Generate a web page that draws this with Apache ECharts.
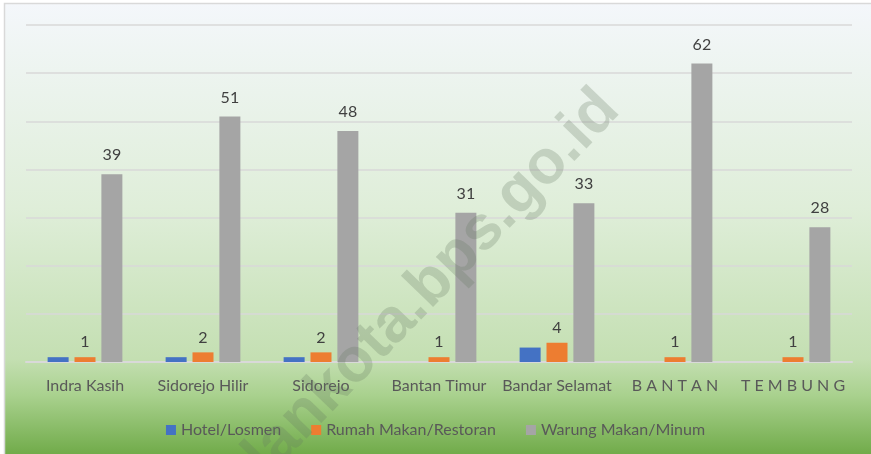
<!DOCTYPE html>
<html><head><meta charset="utf-8">
<script src="https://cdn.jsdelivr.net/npm/echarts@6/dist/echarts.min.js"></script>
<style>html,body{margin:0;padding:0;background:#fff}#c{width:871px;height:454px}</style>
</head><body><div id="c"></div>
<script>
var categories = ['Indra Kasih','Sidorejo Hilir','Sidorejo','Bantan Timur','Bandar Selamat','B A N T A N','T E M B U N G'];
var hotel = [1,1,1,0,3,0,0];
var rumahMakan = [1,2,2,1,4,1,1];
var warung = [39,51,48,31,33,62,28];
var seriesNames = ['Hotel/Losmen','Rumah Makan/Restoran','Warung Makan/Minum'];
var colors = ['#4472c4','#ed7d31','#a5a5a5'];

var font = 'Lato, "Open Sans", sans-serif';
var chart = echarts.init(document.getElementById('c'), null, {renderer:'canvas'});
function bar(name, data, color, showLabel, dist){
  return {
    name: name, type:'bar', data: data, barWidth: 21, barGap: '28%',
    itemStyle:{color: color},
    label:{show: showLabel, position:'top', distance: dist, color:'#404040', fontSize:16, fontFamily: font,
      formatter: function(p){ return p.value > 0 ? p.value : ''; }},
    z: 3
  };
}
chart.setOption({
  animation:false,
  textStyle:{fontFamily: font},
  graphic:[
    {type:'rect', z:-10, shape:{x:4.5,y:3.5,width:870,height:455},
     style:{stroke:'#d9d9d9', lineWidth:1.5,
       fill: new echarts.graphic.LinearGradient(0,0,0,1,[
         {offset:0,color:'#f4f7fb'},
         {offset:0.45,color:'#dfeed9'},
         {offset:0.78,color:'#c4dfb2'},
         {offset:0.86,color:'#a9d18e'},
         {offset:1,color:'#6ca844'}])}},
    {type:'text', z:100, silent:true, x:394, y:323, rotation: 46*Math.PI/180,
     style:{text:'medankota.bps.go.id', x:0, y:0, align:'center', verticalAlign:'middle',
       font:'bold 62px "Liberation Sans", Arial, sans-serif', fill:'rgba(100,120,95,0.26)'}}
  ],
  grid:{left:26, right:19, top:25, bottom:92, containLabel:false},
  legend:{
    data: seriesNames, top:417, left:'center', itemWidth:10, itemHeight:10, itemGap:30,
    icon:'rect',
    textStyle:{color:'#595959', fontSize:16, fontFamily: font}
  },
  xAxis:{
    type:'category', data: categories,
    axisLine:{lineStyle:{color:'#d9d9d9', width:2}},
    axisTick:{show:false},
    axisLabel:{color:'#595959', fontSize:16, fontFamily: font, margin:16, interval:0}
  },
  yAxis:{
    type:'value', min:0, max:70, interval:10,
    axisLabel:{show:false}, axisLine:{show:false}, axisTick:{show:false},
    splitLine:{lineStyle:{color:'#d9d9d9', width:1.5}}
  },
  series:[
    bar(seriesNames[0], hotel, colors[0], false, 6),
    bar(seriesNames[1], rumahMakan, colors[1], true, 7),
    bar(seriesNames[2], warung, colors[2], true, 11)
  ]
});
</script></body></html>
